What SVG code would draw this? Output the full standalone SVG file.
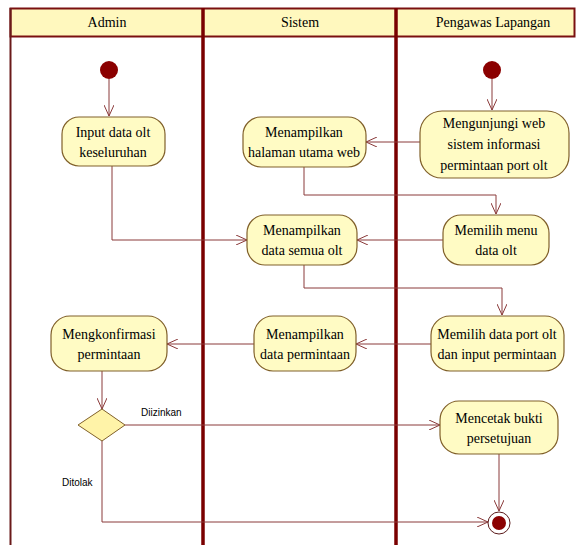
<svg xmlns="http://www.w3.org/2000/svg" width="576" height="545" viewBox="0 0 576 545">
<style>
.hdr{font-size:14px;fill:#000;text-anchor:middle}
.nt{font-size:14px;fill:#000;text-anchor:middle}
.lbl{font-family:'Liberation Sans',Arial,sans-serif;font-size:10px;fill:#000}
.act{fill:#FFFBC4;stroke:#80602A;stroke-width:1.2}
.lane{stroke:#7A0000;stroke-width:3.5}
.cn{fill:none;stroke:#8A3A3A;stroke-width:1}
</style>
<defs>
<marker id="arr" viewBox="0 0 12 10" refX="11" refY="5" markerWidth="12" markerHeight="10" markerUnits="userSpaceOnUse" orient="auto">
<path d="M0,0 L11,5 L0,10" fill="none" stroke="#8A3A3A" stroke-width="1"/>
</marker>
</defs>
<rect width="576" height="545" fill="#fff"/>
<g id="swimlanes" font-family="Liberation Serif, Times New Roman, serif">
<rect x="10.5" y="8.5" width="564" height="28" fill="#FFF8BE" stroke="#7A1010" stroke-width="2"/>
<line x1="10.5" y1="8" x2="10.5" y2="545" stroke="#6A1A1A" stroke-width="2"/>
<line class="lane" x1="203" y1="8" x2="203" y2="545"/>
<line class="lane" x1="396" y1="8" x2="396" y2="545"/>
<text class="hdr" x="107" y="27">Admin</text>
<text class="hdr" x="300" y="27">Sistem</text>
<text class="hdr" x="493" y="27">Pengawas Lapangan</text>
</g>
<g id="connectors">
<line class="cn" x1="109" y1="79" x2="109" y2="116" marker-end="url(#arr)"/>
<line class="cn" x1="492" y1="79" x2="492" y2="110" marker-end="url(#arr)"/>
<line class="cn" x1="420" y1="142" x2="366" y2="142" marker-end="url(#arr)"/>
<polyline class="cn" points="304,167 304,195 496,195 496,214" marker-end="url(#arr)"/>
<polyline class="cn" points="112,166 112,240 247,240" marker-end="url(#arr)"/>
<line class="cn" x1="443" y1="240" x2="357" y2="240" marker-end="url(#arr)"/>
<polyline class="cn" points="304,265 304,288 502,288 502,315" marker-end="url(#arr)"/>
<line class="cn" x1="431" y1="344" x2="356" y2="344" marker-end="url(#arr)"/>
<line class="cn" x1="254" y1="344" x2="167" y2="344" marker-end="url(#arr)"/>
<line class="cn" x1="102" y1="371" x2="102" y2="409" marker-end="url(#arr)"/>
<line class="cn" x1="125" y1="425" x2="440" y2="425" marker-end="url(#arr)"/>
<polyline class="cn" points="102,441 102,522 488,522" marker-end="url(#arr)"/>
<line class="cn" x1="499" y1="454" x2="499" y2="511" marker-end="url(#arr)"/>
<text class="lbl" x="141" y="416">Diizinkan</text>
<text class="lbl" x="62" y="486">Ditolak</text>
</g>
<g id="nodes" font-family="Liberation Serif, Times New Roman, serif">
<g id="start-admin"><circle cx="109" cy="70" r="9" fill="#8B0000"/></g>
<g id="start-pengawas"><circle cx="492" cy="70" r="9" fill="#8B0000"/></g>
<g id="input-data">
<rect class="act" x="62" y="117" width="103" height="49" rx="17"/>
<text class="nt" x="113" y="137">Input data olt</text>
<text class="nt" x="113" y="157">keseluruhan</text>
</g>
<g id="mengunjungi">
<rect class="act" x="420" y="111" width="149" height="67" rx="22"/>
<text class="nt" x="494" y="128">Mengunjungi web</text>
<text class="nt" x="494" y="149">sistem informasi</text>
<text class="nt" x="494" y="170">permintaan port olt</text>
</g>
<g id="halaman-utama">
<rect class="act" x="243" y="117" width="123" height="50" rx="18"/>
<text class="nt" x="304" y="137">Menampilkan</text>
<text class="nt" x="304" y="157">halaman utama web</text>
</g>
<g id="memilih-menu">
<rect class="act" x="443" y="215" width="106" height="50" rx="18"/>
<text class="nt" x="496" y="235">Memilih menu</text>
<text class="nt" x="496" y="255">data olt</text>
</g>
<g id="data-semua-olt">
<rect class="act" x="247" y="215" width="110" height="50" rx="18"/>
<text class="nt" x="302" y="235">Menampilkan</text>
<text class="nt" x="302" y="255">data semua olt</text>
</g>
<g id="memilih-port">
<rect class="act" x="431" y="316" width="133" height="55" rx="19"/>
<text class="nt" x="497" y="339">Memilih data port olt</text>
<text class="nt" x="497" y="359">dan input permintaan</text>
</g>
<g id="data-permintaan">
<rect class="act" x="254" y="316" width="102" height="55" rx="19"/>
<text class="nt" x="305" y="339">Menampilkan</text>
<text class="nt" x="305" y="359">data permintaan</text>
</g>
<g id="mengkonfirmasi">
<rect class="act" x="51" y="316" width="116" height="55" rx="19"/>
<text class="nt" x="109" y="339">Mengkonfirmasi</text>
<text class="nt" x="109" y="359">permintaan</text>
</g>
<g id="decision">
<polygon points="102,409 125,425 102,441 78,425" fill="#FFF3A8" stroke="#80602A" stroke-width="1"/>
</g>
<g id="mencetak">
<rect class="act" x="440" y="401" width="118" height="53" rx="19"/>
<text class="nt" x="499" y="423">Mencetak bukti</text>
<text class="nt" x="499" y="443">persetujuan</text>
</g>
<g id="final">
<circle cx="499" cy="523" r="11" fill="#fff" stroke="#5A1A1A" stroke-width="1"/>
<circle cx="499" cy="523" r="7" fill="#8B0000"/>
</g>
</g>
</svg>
